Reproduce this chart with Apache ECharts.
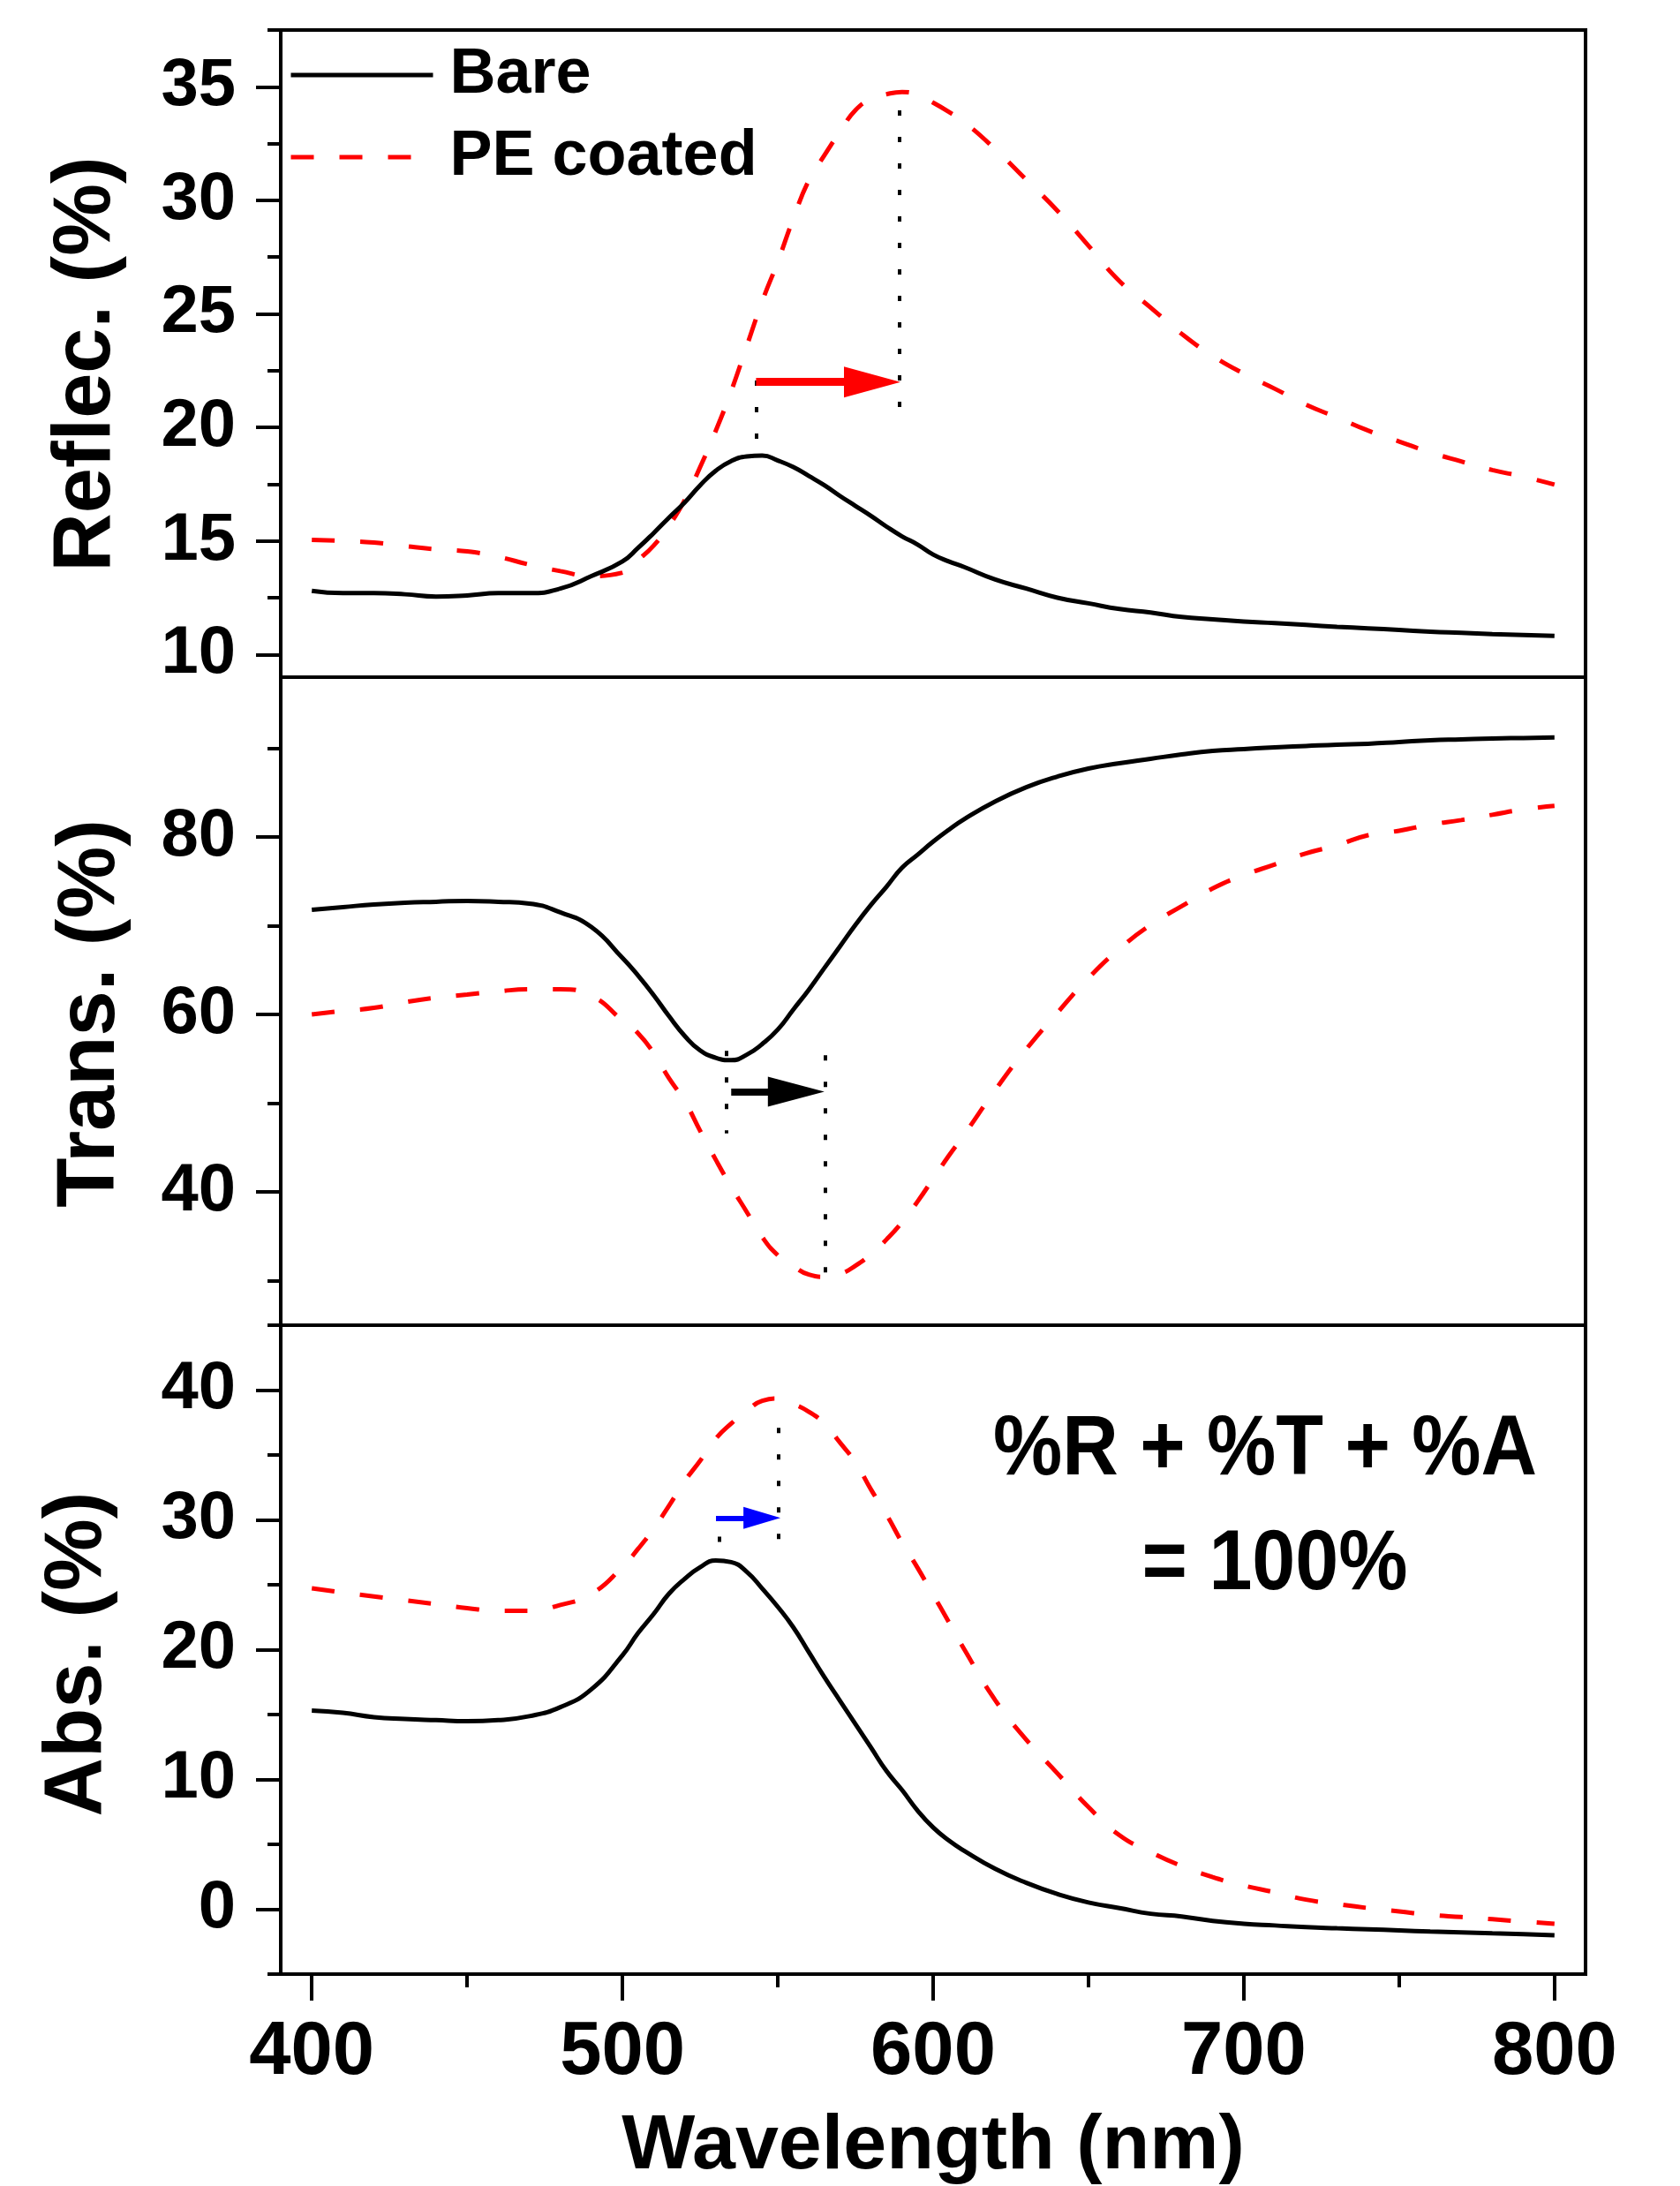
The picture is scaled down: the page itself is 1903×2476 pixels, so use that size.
<!DOCTYPE html>
<html>
<head>
<meta charset="utf-8">
<script src="https://cdn.jsdelivr.net/npm/echarts@6/dist/echarts.min.js"></script>
<style>html,body{margin:0;padding:0;background:#fff}#c{width:1903px;height:2476px}</style>
</head>
<body>
<div id="c"></div>
<script>
// ---------- data ----------
const wavelength = [400,410,420,430,440,450,460,470,480,490,
  500,505,510,515,520,525,530,535,540,545,550,555,560,565,570,575,580,585,590,595,600,605,610,
  620,630,640,650,660,670,680,690,700,710,720,730,740,750,760,770,780,790,800];

const reflBare = [12.8,12.7,12.7,12.65,12.55,12.6,12.7,12.7,12.9,13.45,
  14.1,14.69,15.34,16.03,16.69,17.45,18.09,18.52,18.72,18.76,18.54,18.25,17.86,17.45,16.98,16.54,16.1,15.63,15.2,14.84,14.4,14.1,13.85,
  13.3,12.9,12.5,12.25,12.0,11.85,11.65,11.55,11.45,11.38,11.3,11.22,11.15,11.08,11.0,10.95,10.9,10.86,10.82];
const reflPE = [15.05,15.0,14.93,14.77,14.63,14.54,14.3,13.96,13.67,13.45,
  13.6,14.16,14.79,15.68,16.79,18.25,19.84,21.6,23.58,25.56,27.3,29.2,30.88,31.98,33.02,33.97,34.45,34.67,34.77,34.65,34.3,33.9,33.45,
  32.25,30.9,29.54,28.0,26.44,25.28,24.12,23.15,22.37,21.7,21.0,20.44,19.86,19.38,18.9,18.5,18.12,17.83,17.48];

const transBare = [71.8,72.1,72.4,72.6,72.7,72.8,72.7,72.5,71.5,69.85,
  66.37,64.4,62.2,59.8,57.6,55.95,55.13,54.85,55.47,56.68,58.3,60.56,62.8,65.24,67.67,70.1,72.35,74.4,76.54,78.0,79.47,80.8,82.0,
  84.0,85.6,86.8,87.7,88.3,88.8,89.3,89.7,89.9,90.1,90.25,90.4,90.5,90.7,90.9,91.0,91.1,91.15,91.2];
const transPE = [60.0,60.4,60.75,61.4,61.9,62.25,62.6,62.85,62.85,62.1,
  59.33,57.9,55.67,52.8,50.26,46.9,43.66,40.6,37.76,34.92,32.88,31.65,30.7,30.45,30.75,31.7,33.0,34.66,36.6,38.94,41.5,44.07,46.47,
  51.5,56.1,60.2,64.1,67.4,70.1,72.2,74.2,75.7,76.9,78.15,79.07,80.2,80.7,81.4,81.9,82.5,83.1,83.5];

const absBare = [15.3,15.13,14.8,14.66,14.57,14.49,14.57,14.87,15.57,16.95,
  19.57,21.27,22.74,24.32,25.45,26.35,26.87,26.74,26.0,24.7,23.3,21.72,19.8,17.88,16.07,14.26,12.45,10.64,9.18,7.6,6.3,5.3,4.5,
  3.11,2.03,1.17,0.52,0.09,-0.35,-0.56,-0.9,-1.12,-1.25,-1.38,-1.47,-1.55,-1.63,-1.72,-1.78,-1.85,-1.92,-2.0];
const absPE = [24.73,24.4,24.1,23.8,23.5,23.2,23.0,23.0,23.44,24.3,
  26.37,27.76,29.31,31.1,32.97,34.56,36.25,37.42,38.4,39.17,39.35,38.94,38.33,37.4,35.96,34.42,32.34,30.4,28.25,26.3,24.23,22.15,20.03,
  16.1,13.06,10.47,7.87,5.7,4.41,3.33,2.47,1.82,1.3,0.74,0.4,0.09,-0.17,-0.43,-0.6,-0.77,-0.95,-1.12];

// annotation guides (dotted) and shift arrows, in data units [wavelength, value]
const reflGuides = [[[543,19.5],[543,22.4]], [[589,20.9],[589,34.2]]];
const reflArrow = [[543,22.0],[580.4,22.0]];
const transGuides = [[[533.3,55.9],[533.3,46.6]], [[565.2,55.4],[565.2,30.7]]];
const transArrow = [[535,51.3],[555.9,51.3]];
const absGuides = [[[531.3,28.3],[531.3,29.3]], [[550.3,37.1],[550.3,28.4]]];
const absArrow = [[530.1,30.15],[544.9,30.15]];

// tick labels / tick positions
const xMajorTicks = [400,500,600,700,800];
const xMinorTicks = [450,550,650,750];
const reflMajor = [10,15,20,25,30,35];
const reflMinor = [12.5,17.5,22.5,27.5,32.5,37.5];
const transMajor = [40,60,80];
const transMinor = [30,50,70,90];
const absMajor = [0,10,20,30,40];
const absMinor = [-5,5,15,25,35,45];

const seriesNames = ['Bare','PE coated'];
const yTitles = ['Reflec. (%)','Trans. (%)','Abs. (%)'];
const xTitle = 'Wavelength (nm)';
const noteLines = ['%R + %T + %A','= 100%'];

// ---------- chart ----------
const FONT = 'Liberation Sans';
const chart = echarts.init(document.getElementById('c'), null, {renderer:'canvas', width:1903, height:2476});

function pairs(ys){ return wavelength.map((x,i)=>[x, ys[i]]); }

const gridBase = {show:true, borderColor:'#000', borderWidth:4, backgroundColor:'rgba(0,0,0,0)', containLabel:false, outerBoundsMode:'none'};
const grids = [
  Object.assign({left:318, top:34, width:1478, height:733}, gridBase),
  Object.assign({left:318, top:767, width:1478, height:734}, gridBase),
  Object.assign({left:318, top:1501, width:1478, height:735}, gridBase)
];

const hiddenX = gi => ({type:'value', gridIndex:gi, min:390, max:810, show:false, axisLine:{onZero:false}, splitLine:{show:false}});
const xAxes = [
  hiddenX(0), hiddenX(1),
  {type:'value', gridIndex:2, min:390, max:810, position:'bottom',
   axisLine:{show:false, onZero:false}, splitLine:{show:false},
   axisTick:{show:true, inside:false, length:30, lineStyle:{color:'#000', width:4}, customValues:xMajorTicks},
   axisLabel:{show:true, customValues:xMajorTicks, color:'#000', fontFamily:FONT, fontWeight:'bold', fontSize:85, margin:47},
   name:xTitle, nameLocation:'middle', nameGap:152,
   nameTextStyle:{color:'#000', fontFamily:FONT, fontWeight:'bold', fontSize:88}},
  {type:'value', gridIndex:2, min:390, max:810, position:'bottom',
   axisLine:{show:false, onZero:false}, splitLine:{show:false},
   axisTick:{show:true, inside:false, length:15, lineStyle:{color:'#000', width:4}, customValues:xMinorTicks},
   axisLabel:{show:false}}
];

function yMajor(gi, min, max, ticks, title, gap, pad){
  return {type:'value', gridIndex:gi, min:min, max:max, position:'left',
    axisLine:{show:false, onZero:false}, splitLine:{show:false},
    axisTick:{show:true, inside:false, length:28, lineStyle:{color:'#000', width:4}, customValues:ticks},
    axisLabel:{show:true, customValues:ticks, color:'#000', fontFamily:FONT, fontWeight:'bold', fontSize:76, margin:51, padding:[0,0,12,0]},
    name:title, nameLocation:'middle', nameGap:gap, nameRotate:90,
    nameTextStyle:{color:'#000', fontFamily:FONT, fontWeight:'bold', fontSize:92, padding:[0,pad,0,0]}};
}
function yMinor(gi, min, max, ticks){
  return {type:'value', gridIndex:gi, min:min, max:max, position:'left',
    axisLine:{show:false, onZero:false}, splitLine:{show:false},
    axisTick:{show:true, inside:false, length:15, lineStyle:{color:'#000', width:4}, customValues:ticks},
    axisLabel:{show:false}};
}
const yAxes = [
  yMajor(0, 9, 37.5, reflMajor, yTitles[0], 173, 24), yMinor(0, 9, 37.5, reflMinor),
  yMajor(1, 25, 98, transMajor, yTitles[1], 168, 28), yMinor(1, 25, 98, transMinor),
  yMajor(2, -5, 45, absMajor, yTitles[2], 183, 10), yMinor(2, -5, 45, absMinor)
];

const dottedStyle = {color:'#000', width:4, type:[6,24], cap:'butt'};
function marks(guides, arrow, color, shaftW, head){
  const data = guides.map(g => [{coord:g[0], lineStyle:dottedStyle, symbol:'none'}, {coord:g[1], symbol:'none'}]);
  data.push([{coord:arrow[0], symbol:'none', lineStyle:{color:color, width:shaftW, type:'solid'}},
             {coord:arrow[1], symbol:'triangle', symbolSize:head}]);
  return {silent:true, animation:false, symbol:['none','none'], label:{show:false}, emphasis:{disabled:true}, data:data};
}

function line(name, gi, ys, dashed, mk){
  const s = {type:'line', name:name, xAxisIndex:gi, yAxisIndex:gi*2, data:pairs(ys),
    showSymbol:false, symbol:'none', smooth:0.5, clip:true, silent:true,
    lineStyle: dashed ? {color:'#ff0000', width:5, type:[26,29]} : {color:'#000', width:5, type:'solid'},
    itemStyle:{color: dashed ? '#ff0000' : '#000'}, z: dashed ? 3 : 4};
  if (mk) s.markLine = mk;
  return s;
}

const series = [
  line(seriesNames[0], 0, reflBare, false),
  line(seriesNames[1], 0, reflPE, true, marks(reflGuides, reflArrow, '#ff0000', 9, [35,64])),
  line(seriesNames[0], 1, transBare, false),
  line(seriesNames[1], 1, transPE, true, marks(transGuides, transArrow, '#000', 8, [34,64])),
  line(seriesNames[0], 2, absBare, false),
  line(seriesNames[1], 2, absPE, true, marks(absGuides, absArrow, '#0000ff', 6, [25,42]))
];

const noteStyle = {fill:'#000', fontFamily:FONT, fontWeight:'bold', fontSize:88, align:'center', verticalAlign:'middle', textAlign:'center', textVerticalAlign:'middle'};
chart.setOption({
  animation:false,
  backgroundColor:'#fff',
  grid:grids,
  xAxis:xAxes,
  yAxis:yAxes,
  legend:{show:true, orient:'vertical', left:327, top:49, padding:0, itemGap:21, itemWidth:161, itemHeight:20,
    selectedMode:false, data:seriesNames,
    itemStyle:{opacity:0, borderWidth:0},
    lineStyle:{width:5},
    textStyle:{color:'#000', fontFamily:FONT, fontWeight:'bold', fontSize:72, lineHeight:72, padding:[0,0,0,14]}},
  series:series,
  graphic:[
    {type:'text', x:1433, y:1643, scaleY:1.1, z:100, style:Object.assign({text:noteLines[0]}, noteStyle)},
    {type:'text', x:1444, y:1773, scaleY:1.1, z:100, style:Object.assign({text:noteLines[1]}, noteStyle)}
  ]
});
</script>
</body>
</html>
